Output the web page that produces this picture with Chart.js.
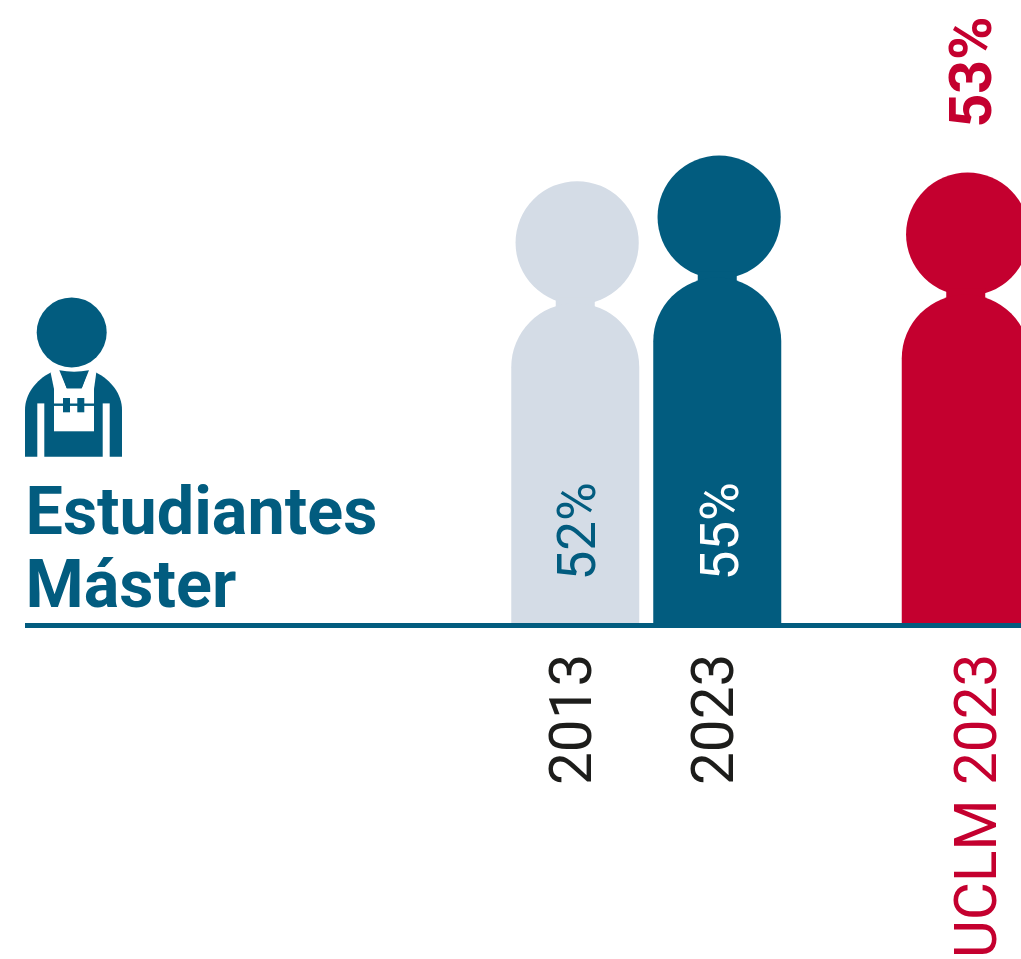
<!DOCTYPE html>
<html lang="es">
<head>
<meta charset="utf-8">
<title>Estudiantes Máster</title>
<script src="https://cdn.jsdelivr.net/npm/chart.js@4"></script>
<style>
html,body{margin:0;padding:0;background:#fff;overflow:hidden}
#wrap{position:relative;width:1021px;height:959px;overflow:hidden}
canvas{position:absolute;left:0;top:0}
</style>
</head>
<body>
<div id="wrap"><canvas id="c" width="1060" height="959"></canvas></div>
<script>
// Data
const categories = ['2013', '2023', 'UCLM 2023'];
const values = [52, 55, 53];
const titleLines = ['Estudiantes', 'Máster'];

// Styles
const NAVY = '#025c7f', LIGHT = '#d4dce6', RED = '#c4002f', INK = '#1d1d1b';
const barColors = [LIGHT, NAVY, RED];
const tickColors = [INK, INK, RED];
const valueColors = [NAVY, '#ffffff', RED];
const valueInside = [true, true, false];
const valueWeights = ['400', '400', '700'];
const spacers = [15, 3, 6, 2];      // blank category slots between the groups
const tickBaselineShift = [15.75, 15.75, 30];
const valueBaselineShift = [19.75, 20.25, 25.25];

// Category table built from the arrays above
const labels = [], slotValues = [], slotIndex = [];
spacers.forEach((n, g) => {
  for (let i = 0; i < n; i++) { labels.push(''); slotValues.push(null); slotIndex.push(-1); }
  if (g < categories.length) { labels.push(categories[g]); slotValues.push(values[g]); slotIndex.push(g); }
});

function drawPerson(ctx, el, color) {
  const HEAD_R = 61.6, BODY_GAP = 122, NECK = 39;
  const top = el.y, w = el.width, left = el.x - w / 2, bodyTop = top + BODY_GAP;
  ctx.fillStyle = color;
  ctx.beginPath();
  ctx.arc(el.x + 1.9, top + HEAD_R, HEAD_R, 0, Math.PI * 2);
  ctx.fill();
  ctx.fillRect(el.x - NECK / 2, bodyTop - 6, NECK, 12);
  ctx.beginPath();
  ctx.roundRect(left, bodyTop, w, el.base - bodyTop, [w / 2, w / 2, 0, 0]);
  ctx.fill();
}

function drawIcon(ctx) {
  const poly = (pts) => {
    ctx.beginPath();
    pts.forEach((p, i) => i ? ctx.lineTo(p[0], p[1]) : ctx.moveTo(p[0], p[1]));
    ctx.closePath();
    ctx.fill();
  };
  ctx.fillStyle = NAVY;
  ctx.beginPath(); ctx.arc(71.7, 332.4, 35, 0, Math.PI * 2); ctx.fill();
  ctx.beginPath();
  ctx.moveTo(25, 456.8);
  ctx.lineTo(25, 410);
  ctx.bezierCurveTo(25, 394, 36, 380, 50.8, 372.5);
  ctx.lineTo(96, 372.5);
  ctx.bezierCurveTo(111, 380, 122, 394, 122, 410);
  ctx.lineTo(122, 456.8);
  ctx.closePath();
  ctx.fill();
  ctx.fillStyle = '#ffffff';
  ctx.fillRect(37.3, 403.4, 7, 54);
  ctx.fillRect(102.7, 403.4, 7, 54);
  ctx.fillRect(54, 388.3, 40, 43);
  poly([[50.6, 372.6], [59.5, 368], [67, 389], [54, 389]]);
  poly([[96.3, 372.6], [89, 368], [81.5, 389], [94, 389]]);
  ctx.fillStyle = NAVY;
  ctx.beginPath();
  ctx.moveTo(59.3, 370.3);
  ctx.quadraticCurveTo(74, 373, 89, 370.3);
  ctx.lineTo(81.7, 388.3);
  ctx.lineTo(66.7, 388.3);
  ctx.closePath();
  ctx.fill();
  ctx.fillRect(54, 403.5, 40, 2.4);
  ctx.fillRect(63, 398, 7, 14.3);
  ctx.fillRect(77.3, 398, 7, 14.3);
}

const personPlugin = {
  id: 'person',
  beforeDraw(chart) {
    const sc = chart.scales.x;
    sc.getLabelItems().forEach((item) => {
      const g = categories.indexOf(item.label);
      if (g < 0) return;
      item.textOffset = 0;
      item.options.textBaseline = 'alphabetic';
      item.options.translation = [sc.getPixelForValue(labels.indexOf(item.label)) + tickBaselineShift[g], item.options.translation[1]];
    });
    const ctx = chart.ctx;
    ctx.save();
    drawIcon(ctx);
    ctx.fillStyle = NAVY;
    ctx.font = '700 66.5px Roboto';
    ctx.textAlign = 'left';
    ctx.textBaseline = 'alphabetic';
    ctx.fillText(titleLines[0], 25.5, 534);
    ctx.fillText(titleLines[1], 25.5, 606.7);
    ctx.restore();
  },
  beforeDatasetDraw(chart, args) {
    const meta = args.meta, ctx = chart.ctx;
    ctx.save();
    meta.data.forEach((el, i) => {
      const g = slotIndex[i];
      if (g >= 0) drawPerson(ctx, el, barColors[g]);
    });
    ctx.restore();
    return false;
  },
  afterDatasetsDraw(chart) {
    const meta = chart.getDatasetMeta(0), ctx = chart.ctx, area = chart.chartArea;
    ctx.fillStyle = NAVY;
    ctx.fillRect(area.left, area.bottom - 2.5, area.right - area.left, 5);
    meta.data.forEach((el, i) => {
      const g = slotIndex[i];
      if (g < 0) return;
      ctx.save();
      const y = valueInside[g] ? el.base - 45 : el.y - 45;
      ctx.translate(el.x + valueBaselineShift[g], y);
      ctx.rotate(-Math.PI / 2);
      ctx.fillStyle = valueColors[g];
      ctx.font = valueWeights[g] + (valueInside[g] ? ' 53px' : ' 59px') + ' Roboto';
      ctx.textAlign = 'left';
      ctx.textBaseline = 'alphabetic';
      ctx.fillText(values[g] + '%', 0, 0);
      ctx.restore();
    });
  }
};

new Chart(document.getElementById('c'), {
  type: 'bar',
  plugins: [personPlugin],
  data: {
    labels,
    datasets: [{
      data: slotValues,
      backgroundColor: labels.map((_, i) => slotIndex[i] >= 0 ? barColors[slotIndex[i]] : 'transparent'),
      barThickness: 128,
      borderWidth: 0
    }]
  },
  options: {
    responsive: false,
    animation: false,
    layout: { padding: { left: 25, right: 5.5, top: 0, bottom: 0 } },
    plugins: { legend: { display: false }, title: { display: false }, tooltip: { enabled: false } },
    scales: {
      x: {
        type: 'category',
        afterFit(scale) { scale.height = 333.5; scale.paddingLeft = 0; scale.paddingRight = 0; },
        grid: { display: false, drawTicks: false },
        border: { display: false },
        ticks: {
          autoSkip: false,
          minRotation: 90,
          maxRotation: 90,
          padding: 28,
          font: { family: 'Roboto', size: 58.5, weight: '400' },
          color: (ctx) => slotIndex[ctx.index] >= 0 ? tickColors[slotIndex[ctx.index]] : INK
        }
      },
      y: { display: false, min: 0, max: 73.2 }
    }
  }
});
</script>
</body>
</html>
